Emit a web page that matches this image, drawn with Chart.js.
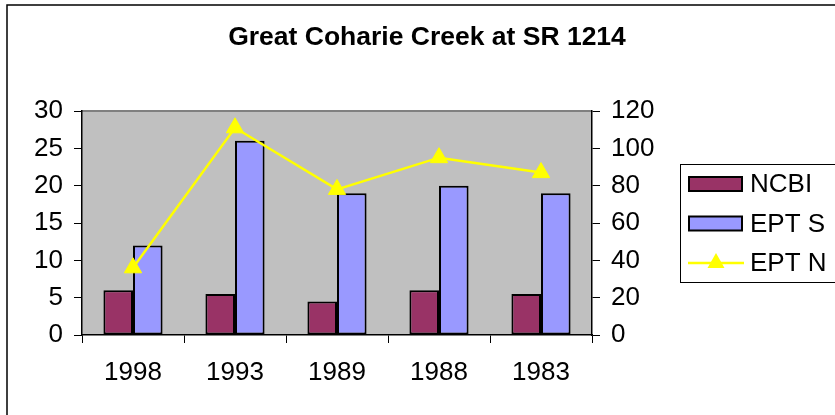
<!DOCTYPE html>
<html>
<head>
<meta charset="utf-8">
<title>Great Coharie Creek at SR 1214</title>
<script src="https://cdn.jsdelivr.net/npm/chart.js@4/dist/chart.umd.min.js"></script>
<style>
  html, body { margin: 0; padding: 0; background: #fff; }
  canvas { display: block; }
</style>
</head>
<body>
<canvas id="mycanvas" width="835" height="415"></canvas>
<script>
// sampling years and the three measures
var years = ["1998", "1993", "1989", "1988", "1983"];
var ncbi = [6, 5.5, 4.5, 6, 5.5];
var eptS = [12, 26, 19, 20, 19];
var eptN = [36, 111, 78, 95, 87];

var FONT = '"Liberation Sans", Arial, sans-serif';
var TITLE = "Great Coharie Creek at SR 1214";

// gray plot area, title, outer frame and the boxed legend on the right
var frame = {
	id: "frame",
	beforeDraw: function(chart) {
		var c = chart.ctx, a = chart.chartArea;
		c.save();
		c.fillStyle = "#C0C0C0";
		c.fillRect(a.left, a.top, a.right - a.left, a.bottom - a.top);
		c.strokeStyle = "#808080";
		c.lineWidth = 2;
		c.beginPath();
		c.moveTo(a.left, a.top);
		c.lineTo(a.right, a.top);
		c.stroke();
		c.restore();
	},
	afterDraw: function(chart) {
		var c = chart.ctx;
		c.save();
		c.strokeStyle = "#000";
		c.lineWidth = 1.5;
		c.strokeRect(7, 5, 900, 500);

		c.fillStyle = "#000";
		c.font = "bold 26.5px " + FONT;
		c.textAlign = "center";
		c.textBaseline = "middle";
		c.fillText(TITLE, 427, 38);

		// legend
		c.lineWidth = 1;
		c.strokeStyle = "#000";
		c.strokeRect(680.5, 164.5, 200, 118);
		c.font = "26px " + FONT;
		c.textAlign = "left";
		var rows = [184, 223.5, 263];
		chart.data.datasets.forEach(function(ds, i) {
			var y = rows[i];
			if (ds.type === "line") {
				c.strokeStyle = ds.borderColor;
				c.lineWidth = 2.5;
				c.beginPath();
				c.moveTo(688, y);
				c.lineTo(744, y);
				c.stroke();
				c.fillStyle = ds.borderColor;
				c.beginPath();
				c.moveTo(716, y - 10);
				c.lineTo(724.5, y + 5);
				c.lineTo(707.5, y + 5);
				c.closePath();
				c.fill();
			} else {
				c.fillStyle = ds.backgroundColor;
				c.fillRect(689, y - 7, 53, 14);
				c.strokeStyle = "#000";
				c.lineWidth = 2;
				c.strokeRect(689, y - 7, 53, 14);
			}
			c.fillStyle = "#000";
			c.fillText(ds.label, 750, y + 1);
		});
		c.restore();
	}
};

var chartdata = {
	labels: years,
	datasets: [
		{
			type: "bar",
			label: "NCBI",
			data: ncbi,
			yAxisID: "y",
			order: 1,
			backgroundColor: "#993366",
			borderColor: "#000",
			borderWidth: 2,
			borderSkipped: false,
			categoryPercentage: 0.58,
			barPercentage: 1
		},
		{
			type: "bar",
			label: "EPT S",
			data: eptS,
			yAxisID: "y",
			order: 2,
			backgroundColor: "#9999FF",
			borderColor: "#000",
			borderWidth: 2,
			borderSkipped: false,
			categoryPercentage: 0.58,
			barPercentage: 1
		},
		{
			type: "line",
			label: "EPT N",
			data: eptN,
			yAxisID: "y1",
			order: 0,
			borderColor: "#FFFF00",
			borderWidth: 2.5,
			tension: 0,
			pointStyle: "triangle",
			pointRadius: 10,
			pointBackgroundColor: "#FFFF00",
			pointBorderColor: "#FFFF00",
			pointBorderWidth: 1
		}
	]
};

var tickFont = { family: FONT, size: 26 };

var options = {
	responsive: false,
	animation: false,
	devicePixelRatio: 1,
	layout: { padding: { top: 111 } },
	plugins: {
		legend: { display: false },
		tooltip: { enabled: false },
		title: { display: false }
	},
	scales: {
		x: {
			offset: true,
			grid: { offset: true, drawOnChartArea: false, drawTicks: true, tickLength: 8, color: "#000", lineWidth: 1 },
			border: { color: "#000", width: 1.5 },
			ticks: { color: "#000", font: tickFont, padding: 14, maxRotation: 0 },
			afterFit: function(s) { s.height = 80; }
		},
		y: {
			position: "left",
			min: 0,
			max: 30,
			grid: { drawOnChartArea: false, drawTicks: true, tickLength: 8, color: "#000", lineWidth: 1 },
			border: { color: "#000", width: 1.5 },
			ticks: { stepSize: 5, color: "#000", font: tickFont, padding: 11 },
			afterFit: function(s) { s.width = 82; }
		},
		y1: {
			position: "right",
			min: 0,
			max: 120,
			grid: { drawOnChartArea: false, drawTicks: true, tickLength: 8, color: "#000", lineWidth: 1 },
			border: { color: "#000", width: 1.5 },
			ticks: { stepSize: 20, color: "#000", font: tickFont, padding: 11 },
			afterFit: function(s) { s.width = 243; }
		}
	}
};

var ctx = document.getElementById("mycanvas");
var barGraph = new Chart(ctx, {
	type: "bar",
	data: chartdata,
	options: options,
	plugins: [frame]
});
</script>
</body>
</html>
